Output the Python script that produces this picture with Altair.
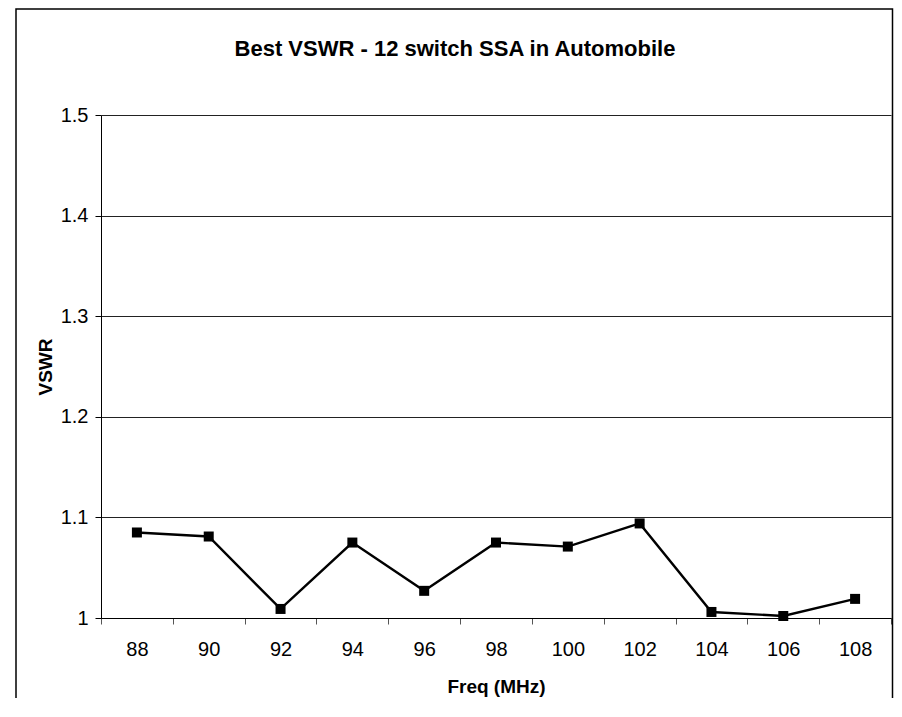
import altair as alt
import pandas as pd

freq = [88, 90, 92, 94, 96, 98, 100, 102, 104, 106, 108]
vswr = [1.085, 1.081, 1.009, 1.075, 1.027, 1.075, 1.071, 1.094, 1.006, 1.002, 1.019]
y_ticks = [1.0, 1.1, 1.2, 1.3, 1.4, 1.5]
title_text = "Best VSWR - 12 switch SSA in Automobile"
x_title = "Freq (MHz)"
y_title = "VSWR"

FONT = "Liberation Sans Narrow, Arial Narrow, Liberation Sans, Arial"

df = pd.DataFrame({"freq": freq, "vswr": vswr})

x_enc = alt.X(
    "freq:O",
    sort=freq,
    scale=alt.Scale(type="band", paddingInner=0, paddingOuter=0),
    axis=alt.Axis(
        title=x_title,
        labelAngle=0,
        tickBand="extent",
        tickSize=6,
        tickColor="#555",
        domainColor="#000",
        labelPadding=15,
        labelFontSize=20,
        labelFont=FONT,
        labelColor="#000",
        titleFont=FONT,
        titleFontSize=19,
        titleFontWeight="bold",
        titleColor="#000",
        titlePadding=18,
        grid=False,
    ),
)
y_enc = alt.Y(
    "vswr:Q",
    scale=alt.Scale(domain=[1, 1.5], nice=False, zero=False),
    axis=alt.Axis(
        title=y_title,
        values=y_ticks,
        format=".1~f",
        tickSize=6,
        tickColor="#000",
        domainColor="#000",
        labelPadding=7,
        labelFontSize=20,
        labelFont=FONT,
        labelColor="#000",
        titleFont=FONT,
        titleFontSize=19,
        titleFontWeight="bold",
        titleColor="#000",
        titlePadding=5,
        grid=True,
        gridColor="#222",
        gridWidth=1,
    ),
)

line = alt.Chart(df).mark_line(color="#000", strokeWidth=2.4).encode(x=x_enc, y=y_enc)
pts = alt.Chart(df).mark_square(color="#000", size=100, opacity=1).encode(x=x_enc, y=y_enc)

frame = alt.Chart(pd.DataFrame({"k": [0]})).mark_rect(
    fill=None, stroke="#000", strokeWidth=1.5
).encode(
    x=alt.value(-85), x2=alt.value(791.5), y=alt.value(-106), y2=alt.value(700)
)

chart = alt.layer(frame, line, pts).properties(
    width=790,
    height=503,
    padding={"left": 93, "top": 107, "right": 3, "bottom": 80},
    autosize=alt.AutoSizeParams(type="none"),
    title=alt.TitleParams(
        title_text,
        font=FONT,
        fontSize=22,
        fontWeight="bold",
        color="#000",
        anchor="middle",
        offset=-53,
        dx=-41,
    ),
).configure_view(stroke="#888", strokeWidth=1.5).configure(background="white")

chart.save("out.html", embed_options={"renderer": "svg", "actions": False})
